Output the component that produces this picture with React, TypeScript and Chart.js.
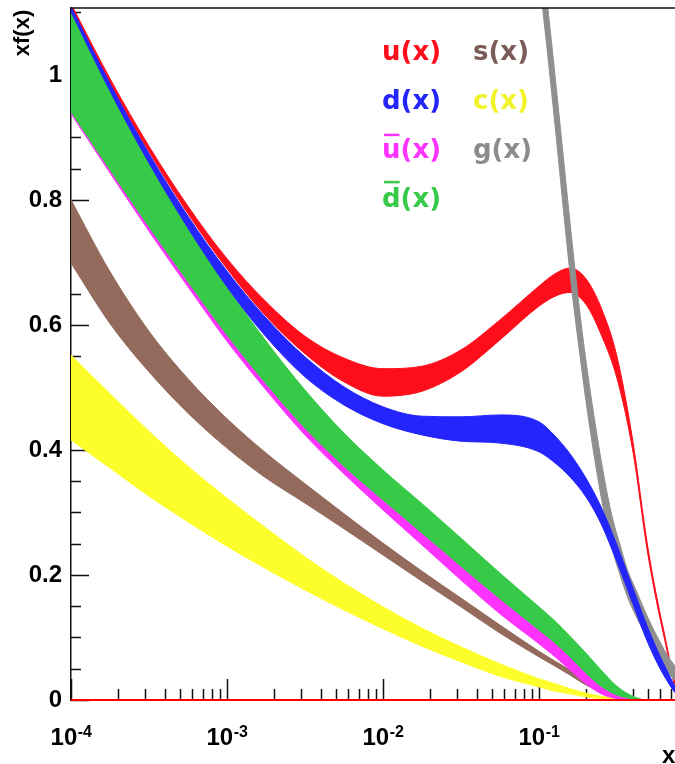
import { useEffect, useRef } from 'react';
import { Chart, registerables } from 'chart.js';

Chart.register(...registerables);

// ---------------- data ----------------
// common x grid (momentum fraction x)
const xGrid = [1e-4, 1.78e-4, 3.16e-4, 5.62e-4, 1e-3, 1.78e-3, 3.16e-3, 5.62e-3, 1e-2, 1.78e-2, 3.16e-2, 5.62e-2, 0.1, 0.127, 0.158, 0.2, 0.25, 0.316, 0.4, 0.5, 0.63, 0.8, 1.0];

const uHigh = [1.114, 0.994, 0.886, 0.79, 0.706, 0.637, 0.582, 0.547, 0.53, 0.534, 0.56, 0.608, 0.662, 0.682, 0.691, 0.674, 0.628, 0.55, 0.414, 0.243, 0.112, 0.008, 0];
const uLow = [1.109, 0.986, 0.877, 0.778, 0.69, 0.614, 0.554, 0.509, 0.486, 0.494, 0.525, 0.576, 0.63, 0.646, 0.652, 0.633, 0.585, 0.515, 0.398, 0.232, 0.104, 0.005, 0];

const dHigh = [1.109, 0.986, 0.874, 0.774, 0.686, 0.611, 0.549, 0.501, 0.469, 0.454, 0.453, 0.456, 0.445, 0.422, 0.394, 0.355, 0.309, 0.248, 0.179, 0.115, 0.058, 0.011, 0];
const dLow = [1.101, 0.974, 0.859, 0.755, 0.661, 0.581, 0.517, 0.472, 0.442, 0.424, 0.414, 0.411, 0.397, 0.379, 0.357, 0.325, 0.282, 0.221, 0.154, 0.091, 0.04, 0.005, 0];

const dbarHigh = [1.107, 0.978, 0.862, 0.76, 0.662, 0.574, 0.496, 0.427, 0.368, 0.314, 0.259, 0.203, 0.149, 0.126, 0.102, 0.075, 0.048, 0.022, 0.006, 0, 0, 0, 0];
const dbarLow = [0.941, 0.848, 0.757, 0.669, 0.584, 0.506, 0.435, 0.374, 0.32, 0.267, 0.214, 0.162, 0.112, 0.091, 0.069, 0.043, 0.022, 0.008, 0.002, 0, 0, 0, 0];

const ubarHigh = [0.946, 0.853, 0.762, 0.674, 0.589, 0.511, 0.44, 0.379, 0.325, 0.272, 0.219, 0.167, 0.117, 0.096, 0.074, 0.048, 0.027, 0.012, 0.004, 0, 0, 0, 0];
const ubarLow = [0.938, 0.843, 0.75, 0.661, 0.574, 0.496, 0.424, 0.362, 0.304, 0.248, 0.192, 0.138, 0.09, 0.069, 0.048, 0.026, 0.01, 0.002, 0, 0, 0, 0, 0];

const sHigh = [0.8, 0.685, 0.59, 0.514, 0.45, 0.395, 0.346, 0.298, 0.251, 0.206, 0.163, 0.12, 0.078, 0.062, 0.048, 0.032, 0.019, 0.008, 0.002, 0, 0, 0, 0];
const sLow = [0.699, 0.602, 0.525, 0.459, 0.403, 0.355, 0.315, 0.274, 0.232, 0.19, 0.149, 0.107, 0.069, 0.054, 0.04, 0.024, 0.013, 0.005, 0, 0, 0, 0, 0];

const cHigh = [0.552, 0.49, 0.43, 0.374, 0.323, 0.275, 0.229, 0.187, 0.149, 0.115, 0.085, 0.058, 0.034, 0.026, 0.018, 0.011, 0.006, 0.003, 0, 0, 0, 0, 0];
const cLow = [0.416, 0.371, 0.326, 0.285, 0.246, 0.21, 0.176, 0.144, 0.114, 0.086, 0.061, 0.038, 0.021, 0.014, 0.01, 0.005, 0.002, 0, 0, 0, 0, 0, 0];

// gluon (scaled) has its own x grid, it is very steep
const gX = [0.1, 0.114, 0.129, 0.145, 0.163, 0.183, 0.206, 0.232, 0.261, 0.294, 0.331, 0.372, 0.419, 0.471, 0.53, 0.597, 0.671, 0.755, 0.93];
const gHigh = [1.232, 1.107, 0.981, 0.856, 0.733, 0.619, 0.52, 0.434, 0.358, 0.294, 0.248, 0.206, 0.176, 0.146, 0.118, 0.093, 0.07, 0.053, 0.029];
const gLow = [1.16, 1.03, 0.901, 0.773, 0.653, 0.552, 0.456, 0.373, 0.301, 0.243, 0.2, 0.163, 0.134, 0.109, 0.083, 0.061, 0.043, 0.03, 0.013];

// axis ticks / labels
const yTickValues = [0, 0.2, 0.4, 0.6, 0.8, 1.0];
const yTickLabels = ['0', '0.2', '0.4', '0.6', '0.8', '1'];
const xTickValues = [1e-4, 1e-3, 1e-2, 1e-1];
const xTickBase = ['10', '10', '10', '10'];
const xTickExp = ['-4', '-3', '-2', '-1'];
const xTitle = 'x';
const yTitle = 'xf(x)';

// legend (column 1: u, d, ubar, dbar ; column 2: s, c, g)
const legendLabels = ['u(x)', 'd(x)', 'u(x)', 'd(x)', 's(x)', 'c(x)', 'g(x)'];
const legendBars = [false, false, true, true, false, false, false];

// ---------------- styles ----------------
const X_MIN = 1e-4;
const X_MAX = 0.745;
const Y_MAX = 1.107;

const RED = '#fe0d1b';
const BLUE = '#2424fc';
const GREEN = '#37c948';
const MAGENTA = '#ff33ff';
const BROWN = '#936a5b';
const YELLOW = '#fdfd2c';
const GRAY = '#8f8f8f';
const legendColors = [RED, BLUE, MAGENTA, GREEN, '#7c5c59', '#f3f32a', '#8c8c8c'];

const AXIS_FAMILY = '"Liberation Sans", Arial, Helvetica, sans-serif';
const LEGEND_FONT = 'bold 26px "DejaVu Sans", Verdana, sans-serif';

function band(label: string, xs: number[], hi: number[], lo: number[], color: string) {
  const common = {
    borderColor: color,
    backgroundColor: color,
    borderWidth: 1,
    pointRadius: 0,
    pointHoverRadius: 0,
    cubicInterpolationMode: 'monotone' as const,
  };
  return [
    { ...common, label: label + ' high', data: xs.map((x, i) => ({ x, y: hi[i] })), fill: '+1' },
    { ...common, label: label + ' low', data: xs.map((x, i) => ({ x, y: lo[i] })), fill: false },
  ];
}

const decorPlugin = {
  id: 'decor',
  beforeDatasetsDraw(chart: any) {
    const { ctx, chartArea, scales } = chart;
    const xs = scales.x;
    const ys = scales.y;
    ctx.save();
    ctx.strokeStyle = '#111';
    ctx.lineWidth = 1.5;
    ctx.beginPath();
    // y ticks pointing inward
    for (let i = 0; i * 0.05 <= Y_MAX + 1e-9; i++) {
      const v = i * 0.05;
      const py = Math.round(ys.getPixelForValue(v)) + 0.5;
      const len = i % 4 === 0 ? 18 : 10;
      ctx.moveTo(chartArea.left, py);
      ctx.lineTo(chartArea.left + len, py);
    }
    // x ticks pointing inward
    for (let d = -4; d <= 0; d++) {
      for (let m = 1; m <= 9; m++) {
        const v = m * Math.pow(10, d);
        if (v < X_MIN * 0.999 || v > X_MAX) continue;
        const px = Math.round(xs.getPixelForValue(v)) + 0.5;
        const len = m === 1 ? 21 : 11;
        ctx.moveTo(px, chartArea.bottom);
        ctx.lineTo(px, chartArea.bottom - len);
      }
    }
    ctx.stroke();
    ctx.restore();
  },
  afterDatasetsDraw(chart: any) {
    const { ctx, chartArea } = chart;
    ctx.save();
    // red zero line along the bottom
    ctx.strokeStyle = '#ff0000';
    ctx.lineWidth = 2;
    ctx.beginPath();
    ctx.moveTo(chartArea.left, chartArea.bottom);
    ctx.lineTo(chartArea.right, chartArea.bottom);
    ctx.stroke();
    // top frame line
    ctx.strokeStyle = '#111';
    ctx.lineWidth = 1.5;
    ctx.beginPath();
    ctx.moveTo(chartArea.left, chartArea.top);
    ctx.lineTo(chartArea.right, chartArea.top);
    ctx.stroke();
    ctx.restore();
  },
  afterDraw(chart: any) {
    const { ctx, chartArea, scales } = chart;
    const xs = scales.x;
    ctx.save();
    ctx.fillStyle = '#000';
    ctx.textBaseline = 'alphabetic';
    ctx.textAlign = 'left';
    // x tick labels with superscripts
    for (let i = 0; i < xTickValues.length; i++) {
      const px = xs.getPixelForValue(xTickValues[i]);
      ctx.font = `bold 24px ${AXIS_FAMILY}`;
      const wb = ctx.measureText(xTickBase[i]).width;
      ctx.font = `bold 16px ${AXIS_FAMILY}`;
      const we = ctx.measureText(xTickExp[i]).width;
      const start = px - (wb + we) / 2;
      ctx.font = `bold 24px ${AXIS_FAMILY}`;
      ctx.fillText(xTickBase[i], start, chartArea.bottom + 45);
      ctx.font = `bold 16px ${AXIS_FAMILY}`;
      ctx.fillText(xTickExp[i], start + wb + 0.5, chartArea.bottom + 37);
    }
    // x axis title
    ctx.font = `bold 24px ${AXIS_FAMILY}`;
    ctx.fillText(xTitle, 662, 763);
    // y axis title (rotated)
    ctx.save();
    ctx.translate(29, 33);
    ctx.rotate(-Math.PI / 2);
    ctx.textAlign = 'center';
    ctx.font = `bold 22px ${AXIS_FAMILY}`;
    ctx.fillText(yTitle, 0, 0);
    ctx.restore();
    // legend
    ctx.font = LEGEND_FONT;
    for (let i = 0; i < legendLabels.length; i++) {
      const col = i < 4 ? 0 : 1;
      const row = i < 4 ? i : i - 4;
      const x = col === 0 ? 382 : 473;
      const base = 59.5 + row * 49.2;
      ctx.fillStyle = legendColors[i];
      ctx.fillText(legendLabels[i], x, base);
      if (legendBars[i]) {
        const w = ctx.measureText(legendLabels[i].charAt(0)).width;
        const oy = legendLabels[i].charAt(0) === 'u' ? base - 23 : base - 25;
        ctx.strokeStyle = legendColors[i];
        ctx.lineWidth = 2.5;
        ctx.beginPath();
        ctx.moveTo(x + 2, oy);
        ctx.lineTo(x + w - 1, oy);
        ctx.stroke();
      }
    }
    ctx.restore();
  },
};

export default function App() {
  const ref = useRef<HTMLCanvasElement | null>(null);

  useEffect(() => {
    if (!ref.current) return;
    const datasets = [
      ...band('d(x)', xGrid, dHigh, dLow, BLUE),
      ...band('g(x)', gX, gHigh, gLow, GRAY),
      ...band('u(x)', xGrid, uHigh, uLow, RED),
      ...band('dbar(x)', xGrid, dbarHigh, dbarLow, GREEN),
      ...band('ubar(x)', xGrid, ubarHigh, ubarLow, MAGENTA),
      ...band('s(x)', xGrid, sHigh, sLow, BROWN),
      ...band('c(x)', xGrid, cHigh, cLow, YELLOW),
    ];
    const chart = new Chart(ref.current, {
      type: 'line',
      data: { datasets: datasets as any },
      options: {
        responsive: false,
        animation: false,
        devicePixelRatio: 1,
        events: [],
        layout: { padding: { top: 8, right: 0, bottom: 0, left: 0 } },
        plugins: {
          legend: { display: false },
          tooltip: { enabled: false },
          filler: { propagate: false },
        },
        scales: {
          x: {
            type: 'logarithmic',
            min: X_MIN,
            max: X_MAX,
            grid: { display: false, drawTicks: false },
            border: { display: false },
            ticks: { display: false },
            afterFit(s: any) {
              s.height = 64;
              s.paddingLeft = 0;
              s.paddingRight = 0;
            },
          },
          y: {
            type: 'linear',
            min: 0,
            max: Y_MAX,
            grid: { display: false, drawTicks: false },
            border: { display: true, color: '#111', width: 1.5 },
            ticks: {
              color: '#000',
              padding: 9,
              font: { family: AXIS_FAMILY, size: 24, weight: 'bold' },
              callback: (_v: any, i: number) => yTickLabels[i],
            },
            afterBuildTicks(s: any) {
              s.ticks = yTickValues.map((v) => ({ value: v }));
            },
            afterFit(s: any) {
              s.width = 71;
              s.paddingTop = 0;
              s.paddingBottom = 0;
            },
          },
        },
      } as any,
      plugins: [decorPlugin],
    });
    return () => chart.destroy();
  }, []);

  return (
    <div style={{ position: 'absolute', left: 0, top: 0, width: 675, height: 764, background: '#fff' }}>
      <canvas ref={ref} width={675} height={764} style={{ width: 675, height: 764, display: 'block' }} />
    </div>
  );
}
